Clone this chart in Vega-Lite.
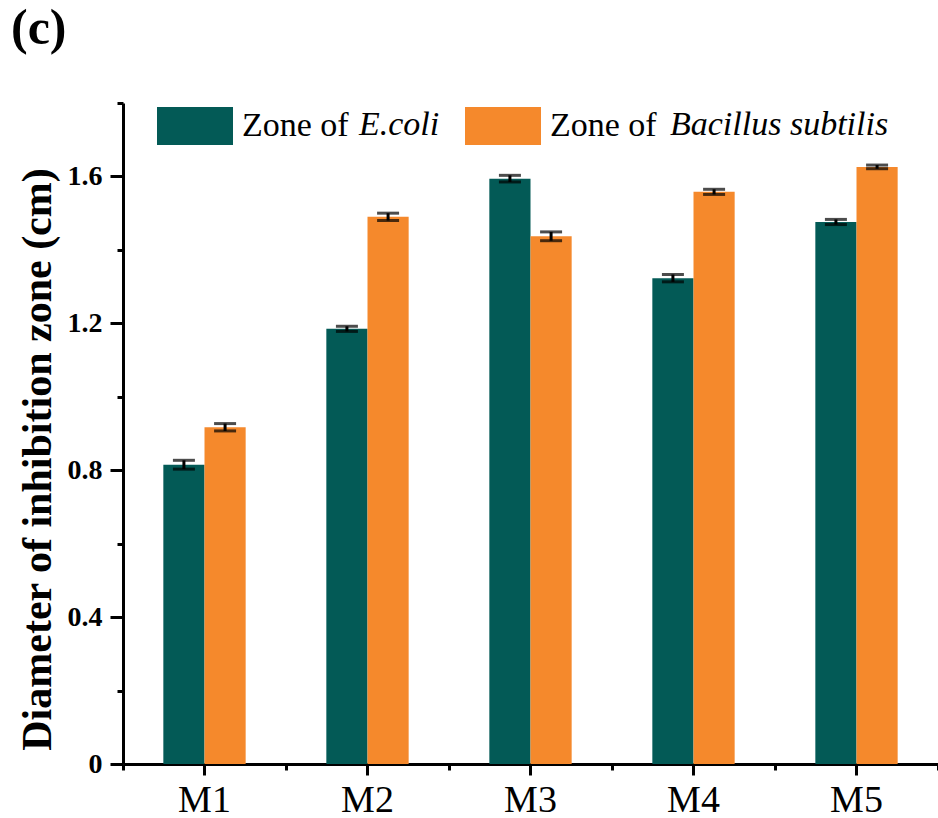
{
  "$schema": "https://vega.github.io/schema/vega-lite/v6.json",
  "width": 815,
  "height": 661,
  "autosize": "none",
  "padding": {"left": 123, "top": 103, "right": 0, "bottom": 54},
  "background": "white",
  "config": {
    "view": {"stroke": null},
    "font": "Liberation Serif"
  },
  "title": {
    "text": "(c)",
    "font": "Liberation Serif",
    "fontSize": 50,
    "fontWeight": "bold",
    "color": "black",
    "anchor": "start",
    "frame": "group",
    "dx": -112,
    "dy": -30
  },
  "data": {
    "values": [
      {"sample": "M1", "org": "E.coli", "value": 0.815, "err": 0.012},
      {"sample": "M1", "org": "Bacillus subtilis", "value": 0.917, "err": 0.010},
      {"sample": "M2", "org": "E.coli", "value": 1.185, "err": 0.007},
      {"sample": "M2", "org": "Bacillus subtilis", "value": 1.490, "err": 0.010},
      {"sample": "M3", "org": "E.coli", "value": 1.594, "err": 0.009},
      {"sample": "M3", "org": "Bacillus subtilis", "value": 1.437, "err": 0.012},
      {"sample": "M4", "org": "E.coli", "value": 1.323, "err": 0.010},
      {"sample": "M4", "org": "Bacillus subtilis", "value": 1.558, "err": 0.007},
      {"sample": "M5", "org": "E.coli", "value": 1.476, "err": 0.007},
      {"sample": "M5", "org": "Bacillus subtilis", "value": 1.626, "err": 0.005}
    ]
  },
  "layer": [
    {
      "layer": [
        {
          "mark": {"type": "bar"},
          "encoding": {
            "x": {
              "field": "sample", "type": "nominal",
              "scale": {"paddingInner": 0, "paddingOuter": 0},
              "axis": {
                "orient": "bottom",
                "title": null,
                "labelAngle": 0,
                "labelFont": "Liberation Serif",
                "labelFontSize": 38,
                "labelColor": "black",
                "labelPadding": 6,
                "tickSize": 11,
                "tickWidth": 3,
                "tickColor": "black",
                "domainColor": "black",
                "domainWidth": 3,
                "grid": false
              }
            },
            "xOffset": {
              "field": "org", "type": "nominal",
              "scale": {"domain": ["E.coli", "Bacillus subtilis"], "paddingInner": 0, "paddingOuter": 0.98}
            },
            "y": {
              "field": "value", "type": "quantitative",
              "title": "Diameter of inhibition zone (cm)",
              "scale": {"domain": [0, 1.8], "nice": false, "zero": true},
              "axis": {
                "titleFont": "Liberation Serif",
                "titleFontSize": 42,
                "titleFontWeight": "bold",
                "titleColor": "black",
                "titlePadding": 8,
                "titleY": 356,
                "values": [0, 0.2, 0.4, 0.6, 0.8, 1.0, 1.2, 1.4, 1.6, 1.8],
                "labelExpr": "datum.value == 0 ? '0' : (round(datum.value * 10) % 4 == 0 ? format(datum.value, '.1f') : '')",
                "labelFont": "Liberation Serif",
                "labelFontSize": 28,
                "labelFontWeight": "bold",
                "labelColor": "black",
                "labelPadding": 8,
                "tickSize": {"condition": {"test": "round(datum.value * 10) % 4 == 0", "value": 13}, "value": 6},
                "tickWidth": 3,
                "tickColor": "black",
                "domainColor": "black",
                "domainWidth": 3,
                "grid": false
              }
            },
            "color": {
              "field": "org", "type": "nominal",
              "scale": {"domain": ["E.coli", "Bacillus subtilis"], "range": ["#035A56", "#F5892C"]},
              "legend": {
                "title": null,
                "orient": "none",
                "legendX": 34,
                "legendY": -15,
                "direction": "horizontal",
                "padding": 0,
                "symbolType": "M-1,-0.5H1V0.5H-1Z",
                "symbolSize": 5776,
                "symbolStrokeWidth": 0,
                "symbolOpacity": 1,
                "labelExpr": "'Zone of'",
                "labelFont": "Liberation Serif",
                "labelFontSize": 34,
                "labelColor": "black",
                "labelOffset": 9,
                "columnPadding": 116,
                "labelLimit": 0
              }
            }
          }
        },
        {
          "mark": {"type": "errorbar", "size": 22, "thickness": 3, "color": "black", "ticks": {"size": 22, "thickness": 3, "color": "black"}},
          "encoding": {
            "x": {"field": "sample", "type": "nominal"},
            "xOffset": {"field": "org", "type": "nominal"},
            "y": {"field": "value", "type": "quantitative", "title": "Diameter of inhibition zone (cm)"},
            "yError": {"field": "err"}
          }
        }
      ]
    },
    {
      "transform": [{"calculate": "datum.org", "as": "species"}],
      "mark": {"type": "point", "opacity": 0},
      "encoding": {
        "x": {
          "field": "sample", "type": "nominal",
          "scale": {"paddingInner": 0, "paddingOuter": 0},
          "axis": {
            "orient": "bottom",
            "title": null,
            "labels": false,
            "domain": false,
            "tickBand": "extent",
            "tickSize": 6,
            "tickWidth": 3,
            "tickColor": "black",
            "grid": false
          }
        },
        "y": {"field": "value", "type": "quantitative", "title": "Diameter of inhibition zone (cm)"},
        "shape": {
          "field": "species", "type": "nominal",
          "sort": ["E.coli", "Bacillus subtilis"],
          "legend": {
            "title": null,
            "orient": "none",
            "legendX": 202,
            "legendY": 5,
            "direction": "horizontal",
            "padding": 0,
            "symbolSize": 1,
            "symbolOpacity": 0,
            "symbolStrokeWidth": 0,
            "labelFont": "Liberation Serif",
            "labelFontSize": 34,
            "labelFontStyle": "italic",
            "labelColor": "black",
            "labelOffset": 0,
            "columnPadding": 196,
            "labelLimit": 0
          }
        }
      }
    }
  ],
  "resolve": {
    "scale": {"x": "independent"},
    "axis": {"x": "independent"}
  }
}
